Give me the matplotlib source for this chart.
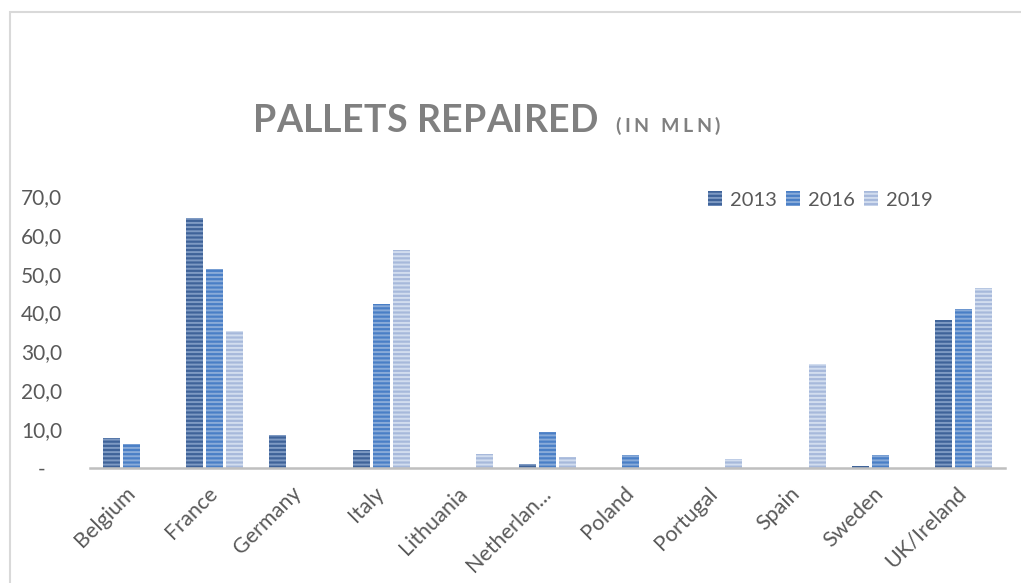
import numpy as np
import matplotlib.pyplot as plt
from matplotlib.patches import Rectangle

# data
countries = ['Belgium', 'France', 'Germany', 'Italy', 'Lithuania', 'Netherlan...',
             'Poland', 'Portugal', 'Spain', 'Sweden', 'UK/Ireland']
years = ['2013', '2016', '2019']
v2013 = [7.8, 64.3, 8.4, 4.6, 0, 1.0, 0, 0, 0, 0.5, 38.0]
v2016 = [6.2, 51.2, 0, 42.2, 0, 9.3, 3.3, 0, 0, 3.3, 41.0]
v2019 = [0, 35.2, 0, 56.0, 3.7, 2.8, 0, 2.4, 26.8, 0, 46.2]
yticks = [0, 10, 20, 30, 40, 50, 60, 70]

W, H = 1021, 583
plt.rcParams['font.family'] = ['Lato', 'DejaVu Sans']
plt.rcParams['hatch.linewidth'] = 1.4

fig = plt.figure(figsize=(W / 100, H / 100), dpi=100)
ax = fig.add_axes([90 / W, 1 - 468 / H, (1005 - 90) / W, (468 - 196) / H])

faces = ['#3f6399', '#4a7fc6', '#a7b9db']
stripes = ['#7e9ac3', '#89abd9', '#d2ddef']
x = np.arange(len(countries))
width = 0.205
step = 0.241
for i, (vals, name) in enumerate(zip([v2013, v2016, v2019], years)):
    ax.bar(x + (i - 1) * step, vals, width, label=name, color=faces[i],
           edgecolor=stripes[i], linewidth=0, hatch='----')

ax.set_xlim(-0.5, len(countries) - 0.5)
ax.set_ylim(0, 70)
ax.set_yticks(yticks)
ax.set_yticklabels(['-   '] + ['%d,0' % t for t in yticks[1:]])
ax.set_xticks(x)
ax.set_xticklabels(countries, rotation=45, ha='right', rotation_mode='anchor', va='center')
ax.tick_params(axis='y', length=0, pad=20, labelsize=15, labelcolor='#595959')
ax.tick_params(axis='x', length=0, pad=16, labelsize=15.5, labelcolor='#595959')
for s in ['top', 'right', 'left']:
    ax.spines[s].set_visible(False)
ax.spines['bottom'].set_color('#bfbfbf')
ax.spines['bottom'].set_linewidth(1.8)

leg = ax.legend(loc='center left', bbox_to_anchor=(708 / W, 1 - 200 / H),
                bbox_transform=fig.transFigure, ncol=3, frameon=False,
                fontsize=14.5, handlelength=0.7, handleheight=0.7,
                handletextpad=0.4, columnspacing=0.45, borderpad=0, borderaxespad=0)
for t in leg.get_texts():
    t.set_color('#595959')

# title with letter spacing
renderer = fig.canvas.get_renderer()


def spaced(text, x0, x1, ybase, size):
    parts = []
    for ch in text:
        t = fig.text(0, 1 - ybase / H, ch if ch != ' ' else '', fontsize=size,
                     fontweight='bold', color='#808080', va='baseline', ha='left')
        w = t.get_window_extent(renderer).width if ch != ' ' else size * 0.35
        parts.append((t, w))
    gap = (x1 - x0 - sum(w for _, w in parts)) / (len(parts) - 1)
    pos = x0
    for t, w in parts:
        t.set_x(pos / W)
        pos += w + gap


spaced('PALLETS REPAIRED', 253, 598, 132, 27)
spaced('(IN MLN)', 615, 720, 132, 14)

fig.patches.append(Rectangle((10 / W, -0.1), 2, 1 - 12 / H + 0.1, transform=fig.transFigure,
                             fill=False, edgecolor='#d9d9d9', linewidth=1.5))

fig.savefig('out.png', dpi=100)
